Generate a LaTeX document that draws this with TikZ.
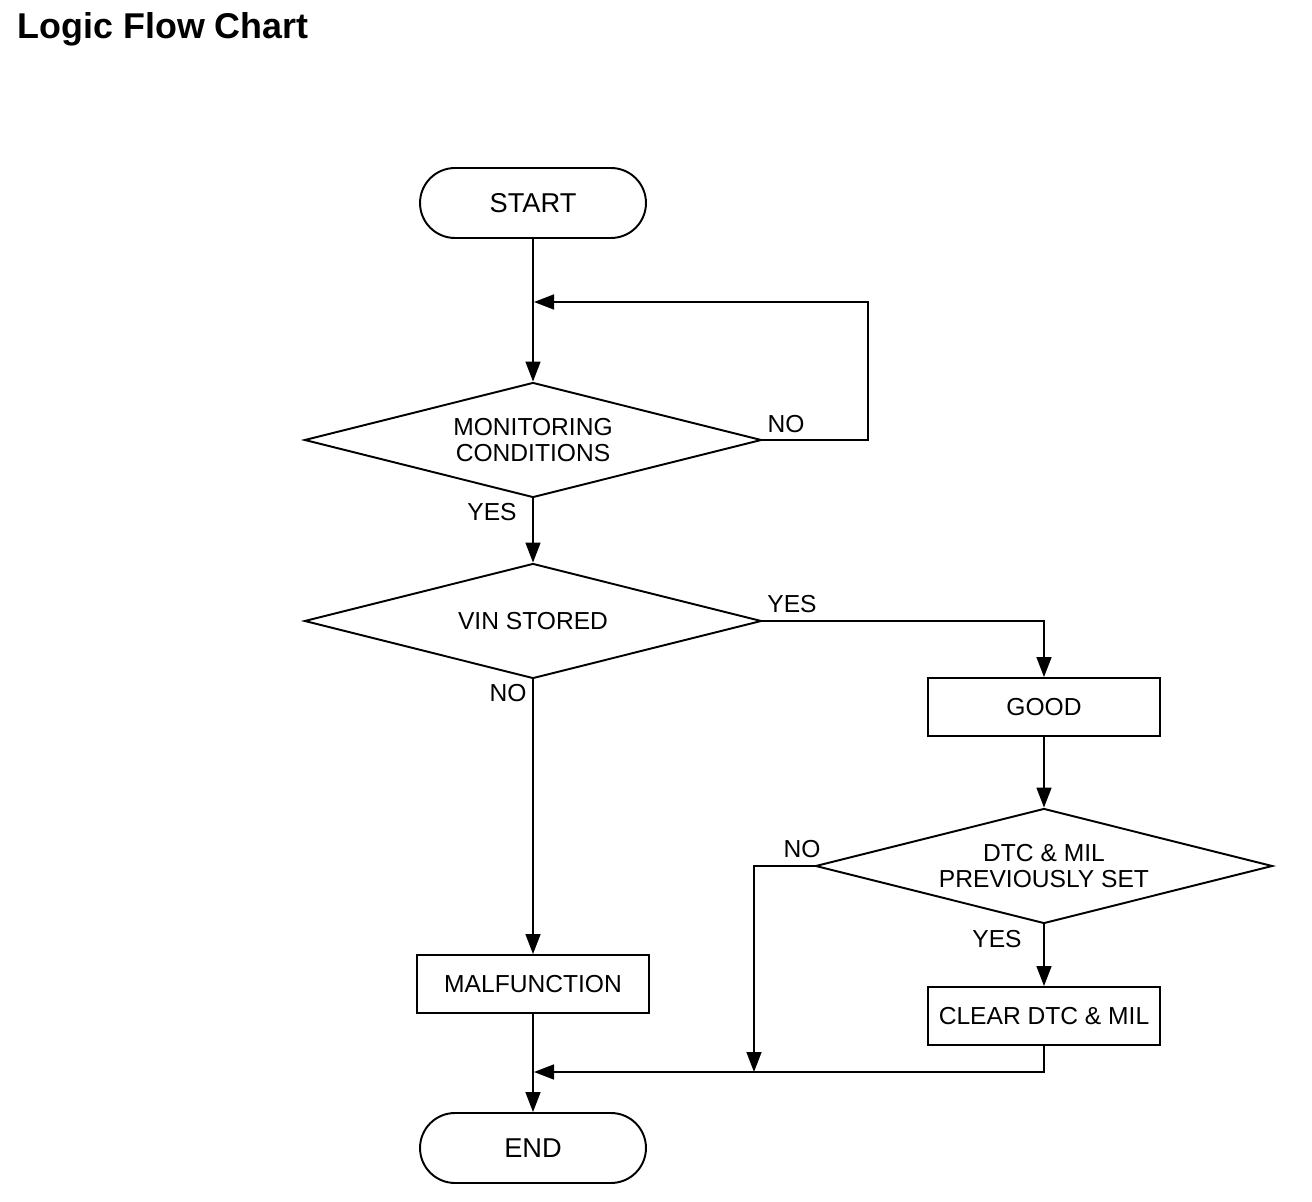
\documentclass[tikz,border=0pt]{standalone}
\usepackage{fontspec}
\setmainfont{Liberation Sans}
\usetikzlibrary{arrows.meta, shapes.geometric}

\begin{document}
\begin{tikzpicture}[
            x = 0.02cm, y = -0.02cm, % pixel grid of the chart
            > = {Triangle[length=0.4cm, width=0.3cm]}, % arrow head style
            font = \fontsize{14}{14.5}\selectfont,
            line width = 0.85pt % line style
        ]

        \tikzstyle{terminal}=[
            draw = black,
            line width = 1.1pt,
            rectangle,
            rounded corners = 0.7cm,
            font = \fontsize{15.5}{16}\selectfont,
            minimum width = 4.52cm,
            minimum height = 1.4cm
        ]
        \tikzstyle{decision}=[
            draw = black,
            line width = 1.1pt,
            diamond,
            aspect = 4,
            align = center,
            inner sep = 0pt,
            minimum width = 9.14cm,
            minimum height = 2.3cm
        ]
        \tikzstyle{process}=[
            draw = black,
            line width = 1.1pt,
            rectangle,
            minimum width = 4.64cm,
            minimum height = 1.16cm
        ]

        \useasboundingbox (0,0) rectangle (1312,1202);

        \node[anchor = west, inner sep = 0pt, font = \fontsize{20.4}{23}\selectfont\bfseries] (title) at (17,29) {Logic Flow Chart};

        \node[terminal] (start) at (533,203) {START};
        \node[decision] (mon) at (533,440) {MONITORING\\CONDITIONS};
        \node[decision] (vin) at (533,621) {VIN STORED};
        \node[process] (good) at (1044,707) {GOOD};
        \node[decision] (dtc) at (1044,866) {DTC \& MIL\\PREVIOUSLY SET};
        \node[process] (clear) at (1044,1016) {CLEAR DTC \& MIL};
        \node[process] (malf) at (533,984) {MALFUNCTION};
        \node[terminal] (end) at (533,1148) {END};

        \coordinate (ret) at (868,302);
        \coordinate (join) at (534,302);
        \coordinate (nojoin) at (754,1072);
        \coordinate (endjoin) at (534,1072);

        % labels
        \node (mon no) at (786,424) {NO};
        \node (mon yes) at (492,512) {YES};
        \node (vin yes) at (792,604) {YES};
        \node (vin no) at (508,693) {NO};
        \node (dtc no) at (802,849) {NO};
        \node (dtc yes) at (997,939) {YES};

	\draw[->] (start) -- (mon);
	\draw[->] (mon.east) -| (ret) -- (join);
	\draw[->] (mon) -- (vin);
	\draw[->] (vin.east) -| (good);
	\draw[->] (vin) -- (malf);
	\draw[->] (good) -- (dtc);
	\draw[->] (dtc) -- (clear);
	\draw[->] (dtc.west) -| (nojoin);
	\draw[->] (clear.south) |- (endjoin);
	\draw[->] (malf) -- (end);
    \end{tikzpicture}
\end{document}
